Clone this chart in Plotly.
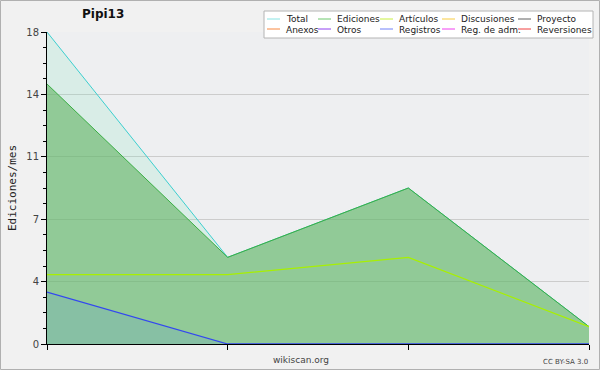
import plotly.graph_objects as go

# ---- data ----
periodos = ["p1", "p2", "p3", "p4"]
total = [18, 5, 9, 1]
ediciones = [15, 5, 9, 1]
articulos = [4, 4, 5, 1]
registros = [3, 0, 0, 0]

ytick_vals = [0, 3.6, 7.2, 10.8, 14.4, 18]
ytick_text = ["0", "4", "7", "11", "14", "18"]

legend_names = ["Total", "Ediciones", "Artículos", "Discusiones", "Proyecto",
                "Anexos", "Otros", "Registros", "Reg. de adm.", "Reversiones"]
legend_colors = ["#88e4e4", "#6cc86c", "#c8f040", "#f8cc40", "#606060",
                 "#f88840", "#9040f0", "#7080f8", "#f040f0", "#f04040"]

W, H = 600, 370
ML, MR, MT, MB = 47, 11, 32, 26
PW, PH = W - ML - MR, H - MT - MB

def px(x):
    return (x - ML) / PW

def py(y):
    return (H - MB - y) / PH

fig = go.Figure()
fig.add_trace(go.Scatter(x=periodos, y=total, mode="lines", fill="tozeroy",
                         line=dict(color="#3ccfcf", width=1),
                         fillcolor="rgba(120,230,190,0.18)", name="Total"))
fig.add_trace(go.Scatter(x=periodos, y=ediciones, mode="lines", fill="tozeroy",
                         line=dict(color="#3aae44", width=1),
                         fillcolor="rgba(97,178,98,0.6)", name="Ediciones"))
fig.add_trace(go.Scatter(x=periodos, y=articulos, mode="lines",
                         line=dict(color="#a8f000", width=1.3), name="Artículos"))
fig.add_trace(go.Scatter(x=periodos, y=registros, mode="lines", fill="tozeroy",
                         line=dict(color="#3347f0", width=1.3),
                         fillcolor="rgba(96,153,218,0.2)", name="Registros"))

shapes = []
annotations = []

# outer frame
shapes.append(dict(type="rect", xref="paper", yref="paper",
                   x0=px(0.5), x1=px(W - 0.5), y0=py(H - 0.5), y1=py(0.5),
                   line=dict(color="#b0b0b0", width=1), layer="below"))

# legend box
shapes.append(dict(type="rect", xref="paper", yref="paper",
                   x0=px(264), x1=px(593), y0=py(38), y1=py(11),
                   line=dict(color="#b4b4b4", width=1), fillcolor="#ffffff"))
col_x = [267, 318, 380, 442, 518]
row_y = [19, 29]
for i, (name, col) in enumerate(zip(legend_names, legend_colors)):
    r, c = divmod(i, 5)
    x0 = col_x[c]
    y = row_y[r]
    shapes.append(dict(type="line", xref="paper", yref="paper",
                       x0=px(x0), x1=px(x0 + 13), y0=py(y), y1=py(y),
                       line=dict(color=col, width=1)))
    annotations.append(dict(text=name, xref="paper", yref="paper",
                            x=px(x0 + 17), y=py(y + 0.5), xanchor="left", yanchor="middle",
                            showarrow=False, font=dict(size=9, color="#222",
                                                       family="DejaVu Sans")))

annotations.append(dict(text="<b>Pipi13</b>", xref="paper", yref="paper",
                        x=px(103), y=py(14), xanchor="center", yanchor="middle",
                        showarrow=False, font=dict(size=12, color="#111", family="DejaVu Sans")))
annotations.append(dict(text="Ediciones/mes", xref="paper", yref="paper",
                        x=px(12), y=py(188), xanchor="center", yanchor="middle", textangle=-90,
                        showarrow=False, font=dict(size=11, color="#222", family="DejaVu Sans Mono")))
annotations.append(dict(text="wikiscan.org", xref="paper", yref="paper",
                        x=px(301), y=py(360), xanchor="center", yanchor="middle",
                        showarrow=False, font=dict(size=9, color="#444", family="DejaVu Sans")))
annotations.append(dict(text="CC BY-SA 3.0", xref="paper", yref="paper",
                        x=px(590), y=py(362), xanchor="right", yanchor="middle",
                        showarrow=False, font=dict(size=7, color="#444", family="DejaVu Sans")))

fig.update_layout(
    width=W, height=H,
    margin=dict(l=ML, r=MR, t=MT, b=MB),
    paper_bgcolor="#f1f1f1",
    plot_bgcolor="#eeeff1",
    showlegend=False,
    shapes=shapes,
    annotations=annotations,
    font=dict(family="DejaVu Sans", size=10, color="#333"),
)
fig.update_xaxes(type="category", range=[0, 3], showgrid=False, showticklabels=False,
                 ticks="outside", ticklen=5, tickcolor="#000", showline=True,
                 linecolor="#000", linewidth=1, zeroline=False, fixedrange=True)
fig.update_yaxes(range=[0, 18], tickvals=ytick_vals, ticktext=ytick_text,
                 ticks="outside", ticklen=5, tickcolor="#000", showline=True,
                 linecolor="#000", linewidth=1, showgrid=True, gridcolor="#cccccc",
                 zeroline=False, tickfont=dict(size=10, color="#444"),
                 minor=dict(dtick=0.9, tick0=0, ticks="outside", ticklen=3,
                            tickcolor="#000", showgrid=False),
                 fixedrange=True)

fig.write_html("out.html", config={"displayModeBar": False},
               post_script="document.body.style.margin='0';document.body.style.overflow='hidden';")
